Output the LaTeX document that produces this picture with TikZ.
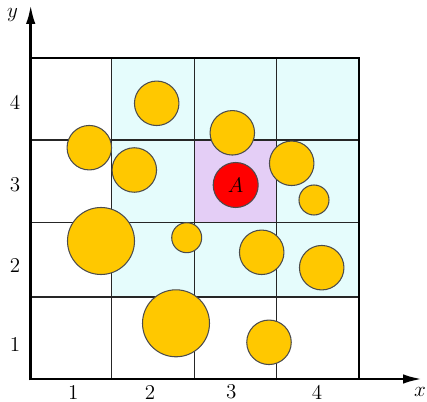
\documentclass[tikz,border=0pt]{standalone}
\usetikzlibrary{arrows.meta}
\definecolor{cellcyan}{RGB}{229,252,252}
\definecolor{cellviolet}{RGB}{228,206,246}
\definecolor{discgold}{RGB}{255,200,0}
\definecolor{discred}{RGB}{255,0,0}
\tikzset{
  axisline/.style={line width=1.5pt, draw=black, -{Latex[length=3.8mm,width=1.9mm]}},
  frameline/.style={line width=1.3pt, draw=black, line cap=rect},
  gridline/.style={line width=0.6pt, draw=black!85},
  disc/.style={fill=discgold, draw=black!70, line width=0.6pt},
  target/.style={circle, fill=discred, draw=black!70, line width=0.6pt, minimum size=0.9cm, inner sep=0pt, font=\large},
  ticklabel/.style={font=\large},
}
\begin{document}
\begin{tikzpicture}
\useasboundingbox (0,0) rectangle (8.54,8.02);
\fill[cellcyan] (2.234,2.080) rectangle (7.174,6.854);
\fill[cellviolet] (3.886,3.566) rectangle (5.526,5.220);
\draw[gridline] (2.234,0.440) -- (2.234,6.854);
\draw[gridline] (3.886,0.440) -- (3.886,6.854);
\draw[gridline] (5.526,0.440) -- (5.526,6.854);
\draw[gridline] (0.614,2.080) -- (7.174,2.080);
\draw[gridline] (0.614,3.566) -- (7.174,3.566);
\draw[gridline] (0.614,5.220) -- (7.174,5.220);
\draw[frameline] (0.614,6.854) -- (7.174,6.854) -- (7.174,0.440);
\draw[axisline] (0.588,0.440) -- (8.440,0.440);
\draw[axisline] (0.614,0.414) -- (0.614,7.920);
\draw[disc] (3.134,5.954) circle (0.445);
\draw[disc] (1.786,5.066) circle (0.445);
\draw[disc] (2.686,4.620) circle (0.445);
\draw[disc] (4.646,5.364) circle (0.445);
\draw[disc] (5.834,4.754) circle (0.445);
\draw[disc] (6.280,4.020) circle (0.300);
\draw[disc] (2.020,3.200) circle (0.670);
\draw[disc] (3.734,3.266) circle (0.300);
\draw[disc] (5.234,2.974) circle (0.445);
\draw[disc] (6.434,2.666) circle (0.445);
\draw[disc] (3.520,1.554) circle (0.670);
\draw[disc] (5.380,1.174) circle (0.445);
\node[target] (A) at (4.714,4.320) {$A$};
\node[ticklabel] (x1) at (1.466,0.180) {1};
\node[ticklabel] (x2) at (3.000,0.180) {2};
\node[ticklabel] (x3) at (4.626,0.180) {3};
\node[ticklabel] (x4) at (6.340,0.180) {4};
\node[ticklabel] (y1) at (0.300,1.140) {1};
\node[ticklabel] (y2) at (0.300,2.706) {2};
\node[ticklabel] (y3) at (0.300,4.320) {3};
\node[ticklabel] (y4) at (0.300,5.966) {4};
\node[ticklabel] (xname) at (8.400,0.180) {$x$};
\node[ticklabel] (yname) at (0.250,7.720) {$y$};
\end{tikzpicture}
\end{document}
